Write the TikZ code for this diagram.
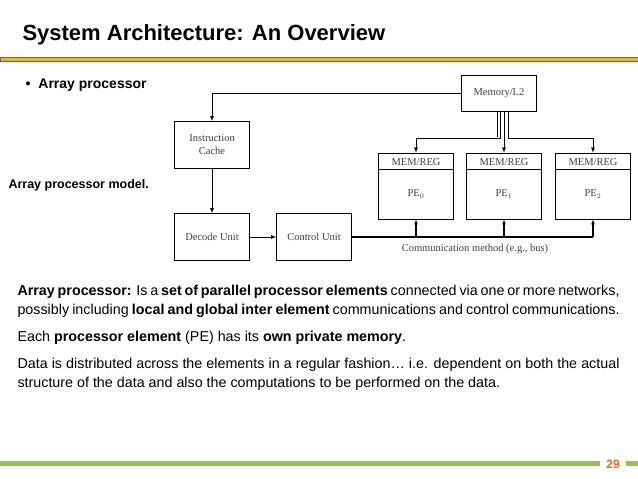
\documentclass[tikz,border=0pt]{standalone}
\usepackage{fontspec}
\setmainfont{Liberation Sans}
\newfontfamily\diagfont{Liberation Serif}
\usetikzlibrary{positioning,calc,arrows.meta}
\definecolor{goldbar}{RGB}{238,178,52}
\definecolor{greenbar}{RGB}{146,198,84}
\definecolor{pagenum}{RGB}{214,110,40}
\begin{document}
\begin{tikzpicture}[x=1pt,y=-1pt,
    unit/.style = {rectangle, draw, thick, minimum width=75pt, minimum height=47pt, align=center, font=\diagfont\fontsize{10.5}{13}\selectfont, text=black!75},
    pe/.style = {rectangle, draw, thick, minimum width=75pt, minimum height=66pt},
    lbl/.style = {font=\diagfont\fontsize{10.5}{13}\selectfont, text=black!75},
    link/.style = {-{Latex[length=5pt,width=4pt]}, semithick},
    bus/.style = {-{Latex[length=5pt,width=4pt]}, very thick}
]
    \useasboundingbox (0,0) rectangle (638,479);

    % Slide title and bars
    \node[anchor=west, font=\bfseries\fontsize{22}{26}\selectfont] (title) at (19,35) {System Architecture: An Overview};
    \fill[goldbar, draw=black!60] (0,57.5) rectangle (638,61);
    \fill[greenbar] (0,461) rectangle (600,466);
    \fill[greenbar] (626,461) rectangle (638,466);
    \node[font=\bfseries\fontsize{12}{14}\selectfont, text=pagenum] (page) at (613,464) {29};

    \node[anchor=west, font=\bfseries\fontsize{14}{16}\selectfont] (bullet) at (22,85) {\textbullet\hspace{8pt}Array processor};
    \node[anchor=west, font=\bfseries\fontsize{12.5}{14}\selectfont] (model) at (5,185) {Array processor model.};

    % Diagram
    \node[unit, minimum height=36pt] (mem) at (499,93) {Memory/L2};
    \node[unit] (cache) at (212,145) {Instruction\\Cache};
    \node[unit] (decode) at (212,237) {Decode Unit};
    \node[unit] (control) at (314,237) {Control Unit};

    \foreach \i/\x in {0/416,1/504,2/593}{
        \node[pe] (pe\i) at (\x,186) {};
        \draw[thick] ($(pe\i.north west)+(0,17)$) -- ($(pe\i.north east)+(0,17)$);
        \node[lbl] (mr\i) at ($(pe\i.north)+(0,9)$) {MEM/REG};
        \node[lbl] (pl\i) at ($(pe\i.center)+(0,8)$) {PE$_{\i}$};
    }

    % Memory connections
    \draw[link] (mem.west) -| (cache.north);
    \draw[link] (cache) -- (decode);
    \draw[link] (decode) -- (control);
    \draw[semithick] ($(mem.south)+(-1.5,0)$) -- ++(0,26);
    \draw[link] ($(mem.south)+(1.5,0)$) |- ($(pe0.north)+(0,-14)$) -- (pe0.north);
    \draw[link] ($(mem.south)+(5,0)$) -- (pe1.north);
    \draw[link] ($(mem.south)+(9,0)$) |- ($(pe2.north)+(0,-14)$) -- (pe2.north);

    % Bus
    \coordinate (busend) at (593,237);
    \draw[very thick] (control.east) -- (busend);
    \foreach \i in {0,1,2}{
        \draw[bus] (pe\i.south |- busend) -- (pe\i.south);
    }
    \node[lbl] (buslabel) at (475,249) {Communication method (e.g., bus)};

    % Body text
    \node[anchor=north west, text width=602pt, align=justify, font=\fontsize{14.3}{19}\selectfont] (body) at (14,282) {%
        \textbf{Array processor:} Is a \textbf{set of parallel processor elements} connected via one or more networks, possibly including \textbf{local and global inter element} communications and control communications.\par\vspace{8pt}
        Each \textbf{processor element} (PE) has its \textbf{own private memory}.\par\vspace{8pt}
        Data is distributed across the elements in a regular fashion\dots\ i.e. dependent on both the actual structure of the data and also the computations to be performed on the data.};
\end{tikzpicture}
\end{document}
